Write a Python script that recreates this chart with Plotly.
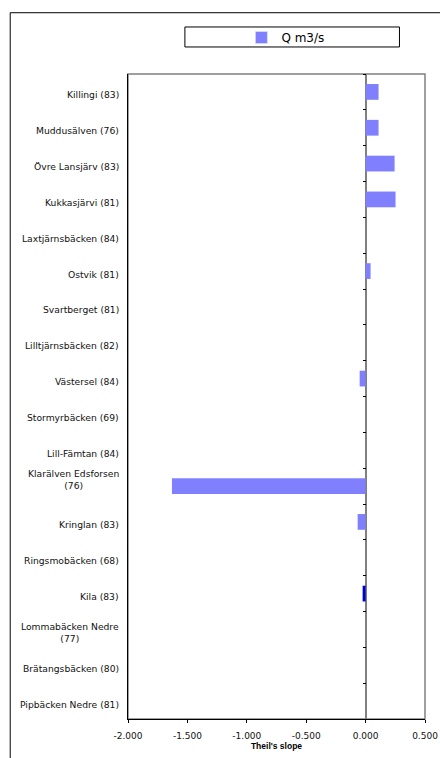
import plotly.graph_objects as go

stations = [
    "Killingi (83)", "Muddusälven (76)", "Övre Lansjärv (83)", "Kukkasjärvi (81)",
    "Laxtjärnsbäcken (84)", "Ostvik (81)", "Svartberget (81)", "Lilltjärnsbäcken (82)",
    "Västersel (84)", "Stormyrbäcken (69)", "Lill-Fämtan (84)",
    "Klarälven Edsforsen<br>(76)", "Kringlan (83)", "Ringsmobäcken (68)", "Kila (83)",
    "Lommabäcken Nedre<br>(77)", "Brätangsbäcken (80)", "Pipbäcken Nedre (81)",
]
slope_q = [0.109, 0.109, 0.244, 0.252, 0.0, 0.042, 0.0, 0.0, -0.05, 0.0, 0.0,
           -1.63, -0.067, 0.0, -0.025, 0.0, 0.0, 0.0]
significant = [False] * 14 + [True] + [False] * 3
x_ticks = [-2.0, -1.5, -1.0, -0.5, 0.0, 0.5]
x_tick_text = ["-2.000", "-1.500", "-1.000", "-0.500", "0.000", "0.500"]
series_name = "Q m3/s"
x_title = "Theil's slope"

x_range = [x_ticks[0], x_ticks[-1]]
n = len(stations)
light = "#8080FF"
dark = "#0000CC"
colors = [dark if s else light for s in significant]

fig = go.Figure()
fig.add_trace(go.Bar(
    x=slope_q, y=list(range(n)), orientation="h", name=series_name,
    marker=dict(color=colors, line=dict(width=0)), width=0.44,
    showlegend=False,
))
# legend entry (light colour)
fig.add_trace(go.Bar(x=[None], y=[None], orientation="h", name=series_name,
                     marker=dict(color=light), showlegend=True))
# invisible trace to host tick axis on zero line
fig.add_trace(go.Scatter(x=[None], y=[None], yaxis="y2", showlegend=False,
                         hoverinfo="skip"))

zero_pos = (0 - x_range[0]) / (x_range[1] - x_range[0])

fig.update_layout(
    width=440, height=758,
    margin=dict(l=128, r=14.5, t=74, b=39),
    paper_bgcolor="white", plot_bgcolor="white",
    font=dict(family="DejaVu Sans", size=9, color="#111"),
    xaxis=dict(
        range=x_range, tickvals=x_ticks, ticktext=x_tick_text,
        tickfont=dict(size=9, family="DejaVu Sans", color="#111"),
        ticks="outside", ticklen=3, tickcolor="#000",
        ticklabelstandoff=5, automargin=False,
        showline=True, linecolor="#000", linewidth=1,
        showgrid=False, zeroline=True, zerolinecolor="#808080", zerolinewidth=2,
        title=dict(text="<b>" + x_title + "</b>",
                   font=dict(size=8.5, family="Liberation Sans", color="#000"),
                   standoff=2),
    ),
    yaxis=dict(
        range=[n - 0.5, -0.5], showticklabels=False, ticks="", automargin=False,
        showline=True, linecolor="#000", linewidth=1, showgrid=False, zeroline=False,
    ),
    yaxis2=dict(
        overlaying="y", anchor="free", position=zero_pos, side="left",
        range=[n - 0.5, -0.5], type="linear", automargin=False,
        tickvals=[i - 0.5 for i in range(n + 1)],
        ticks="outside", ticklen=3, tickcolor="#000", tickwidth=1,
        showticklabels=False, showline=False, showgrid=False, zeroline=False,
    ),
    legend=dict(
        orientation="h", x=0.53, y=1.0566, xanchor="center", yanchor="middle",
        bgcolor="rgba(0,0,0,0)", font=dict(size=12, family="DejaVu Sans", color="#000"),
    ),
    showlegend=True,
)

# station labels
for i, s in enumerate(stations):
    fig.add_annotation(
        x=-0.022, xref="paper", y=i, yref="y", text=s, showarrow=False,
        xanchor="right", yanchor="middle", align="center",
        font=dict(size=9.2, family="DejaVu Sans", color="#111"),
        yshift=(7 if "Klarälven" in s else -3),
    )

# plot frame (top/right grey), legend box, outer chart border
fig.add_shape(type="rect", xref="paper", yref="paper", x0=0, x1=1, y0=0, y1=1,
              line=dict(color="#808080", width=1.5), layer="below")
fig.add_shape(type="rect", xref="paper", yref="paper", x0=0.1916, x1=0.914,
              y0=1.0419, y1=1.0729, line=dict(color="#000", width=1))
fig.add_shape(type="rect", xref="paper", yref="paper", x0=-0.3966, x1=1.2,
              y0=-0.2, y1=1.095, line=dict(color="#000", width=1))

fig.write_html(
    "out.html",
    config={"displayModeBar": False},
    post_script="document.body.style.margin='0';document.body.style.overflow='hidden';",
)
